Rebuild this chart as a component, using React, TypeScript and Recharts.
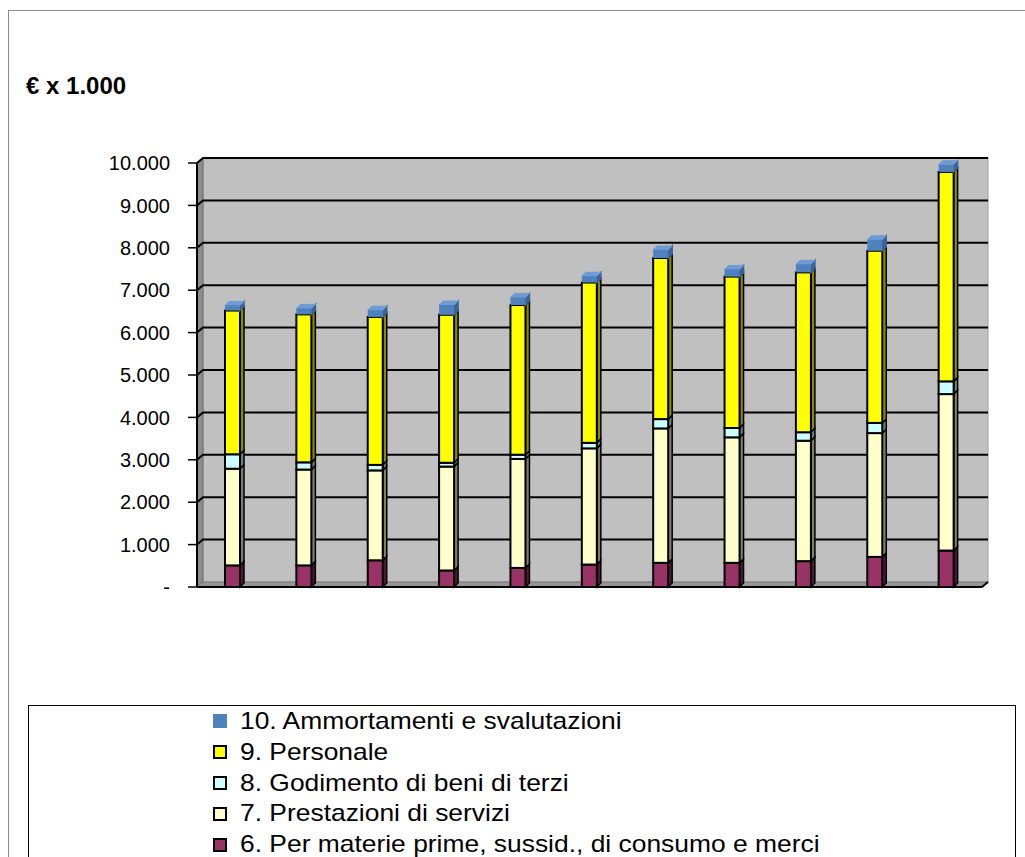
import React from "react";
import { BarChart, Bar, XAxis, YAxis, ReferenceArea, Legend } from "recharts";

const CATEGORIES = ["1", "2", "3", "4", "5", "6", "7", "8", "9", "10", "11"];

const MATERIE = [510, 510, 630, 390, 450, 530, 570, 570, 610, 710, 860];
const PRESTAZIONI = [2280, 2260, 2120, 2450, 2570, 2740, 3170, 2960, 2840, 2920, 3690];
const GODIMENTO = [340, 170, 130, 90, 100, 130, 220, 220, 200, 240, 300];
const PERSONALE = [3390, 3490, 3490, 3490, 3530, 3780, 3800, 3570, 3770, 4060, 4940];
const AMMORTAMENTI = [120, 140, 160, 230, 180, 150, 190, 170, 190, 260, 170];

const Y_TICKS = [0, 1000, 2000, 3000, 4000, 5000, 6000, 7000, 8000, 9000, 10000];
const Y_MAX = 10000;

const FONT = '"Liberation Sans", Arial, sans-serif';

// bottom to top
const SERIES = [
  { key: "materie", name: "6. Per materie prime, sussid., di consumo e merci", fill: "#993366", side: "#4d1a33", outline: true },
  { key: "prestazioni", name: "7. Prestazioni di servizi", fill: "#ffffcc", side: "#80806a", outline: true },
  { key: "godimento", name: "8. Godimento di beni di terzi", fill: "#ccffff", side: "#6a8080", outline: true },
  { key: "personale", name: "9. Personale", fill: "#ffff00", side: "#8a8a00", outline: true },
  { key: "ammortamenti", name: "10. Ammortamenti e svalutazioni", fill: "#4f81bd", side: "#3a6496", outline: false, top: "#6e9bd3" },
];

const data = CATEGORIES.map((c, i) => ({
  name: c,
  materie: MATERIE[i],
  prestazioni: PRESTAZIONI[i],
  godimento: GODIMENTO[i],
  personale: PERSONALE[i],
  ammortamenti: AMMORTAMENTI[i],
}));

function formatTick(v: number) {
  if (v === 0) return "-";
  return String(v).replace(/\B(?=(\d{3})+(?!\d))/g, ".");
}

function Bar3D(props: any) {
  const { x, y, width: w, height: h, s } = props;
  if (x == null || y == null || !h) return null;
  const d = 4;
  const stroke = s.outline ? "#000" : "none";
  return (
    <g>
      <polygon
        points={`${x + w},${y} ${x + w + d},${y - d} ${x + w + d},${y + h - d} ${x + w},${y + h}`}
        fill={s.side}
        stroke={s.outline ? "#000" : s.side}
        strokeWidth={1.5}
      />
      {s.top && (
        <polygon
          points={`${x},${y} ${x + d},${y - d} ${x + w + d},${y - d} ${x + w},${y}`}
          fill={s.top}
          stroke={s.top}
          strokeWidth={1}
        />
      )}
      <rect x={x} y={y} width={w} height={h} fill={s.fill} stroke={stroke} strokeWidth={2} />
    </g>
  );
}

function Walls(props: any) {
  const { x, y, width, height } = props;
  if (x == null) return null;
  const DX = 6;
  const DY = 5;
  const x0 = x;
  const x1 = x + width;
  const yb = y + height;
  return (
    <g>
      <rect x={x0 + DX} y={y - DY} width={width} height={height} fill="#c0c0c0" stroke="#a0a0a0" strokeWidth={1} />
      <polygon
        points={`${x0},${y} ${x0 + DX},${y - DY} ${x0 + DX},${yb - DY} ${x0},${yb}`}
        fill="#8c8c8c"
        stroke="#6e6e6e"
        strokeWidth={1}
      />
      <polygon
        points={`${x0},${yb} ${x0 + DX},${yb - DY} ${x1 + DX},${yb - DY} ${x1},${yb}`}
        fill="#969696"
        stroke="#7a7a7a"
        strokeWidth={1}
      />
      {Y_TICKS.filter((t) => t > 0).map((t) => {
        const ty = yb - (t / Y_MAX) * height;
        return (
          <polyline
            key={t}
            points={`${x0},${ty} ${x0 + DX},${ty - DY} ${x1 + DX},${ty - DY}`}
            fill="none"
            stroke="#000"
            strokeWidth={2}
          />
        );
      })}
      <line x1={x1} y1={yb} x2={x1 + DX} y2={yb - DY} stroke="#000" strokeWidth={2} />
    </g>
  );
}

function LegendBox() {
  const items = [...SERIES].reverse();
  return (
    <div style={{ fontFamily: FONT, fontSize: 24, color: "#000", paddingTop: 0 }}>
      {items.map((s) => (
        <div key={s.key} style={{ display: "flex", alignItems: "center", height: 30.8, lineHeight: "30.8px" }}>
          <span
            style={{
              display: "inline-block",
              marginLeft: 184,
              width: s.outline ? 10 : 14,
              height: s.outline ? 10 : 14,
              background: s.fill,
              border: s.outline ? "2px solid #000" : "none",
              marginRight: 13,
              flex: "none",
            }}
          />
          <span
            style={{
              display: "inline-block",
              whiteSpace: "nowrap",
              transform: "scaleX(1.1)",
              transformOrigin: "left center",
            }}
          >
            {s.name}
          </span>
        </div>
      ))}
    </div>
  );
}

export default function App() {
  return (
    <div
      style={{
        position: "absolute",
        left: 0,
        top: 0,
        width: 1025,
        height: 857,
        background: "#fff",
        overflow: "hidden",
      }}
    >
      <div
        style={{
          position: "absolute",
          left: 8,
          top: 10,
          width: 1040,
          height: 880,
          border: "1.5px solid #8c8c8c",
        }}
      />
      <div
        style={{
          position: "absolute",
          left: 26,
          top: 74,
          fontFamily: FONT,
          fontWeight: "bold",
          fontSize: 24,
          lineHeight: "24px",
          color: "#000",
          whiteSpace: "nowrap",
        }}
      >
        € x 1.000
      </div>
      <div style={{ position: "absolute", left: 0, top: 0 }}>
        <BarChart
          width={1025}
          height={857}
          data={data}
          margin={{ top: 163, right: 43, bottom: 268, left: 0 }}
          barSize={15}
        >
          <ReferenceArea y1={0} y2={Y_MAX} shape={(p: any) => <Walls {...p} />} ifOverflow="visible" />
          <XAxis
            dataKey="name"
            tick={false}
            tickLine={false}
            height={2}
            axisLine={{ stroke: "#000", strokeWidth: 2 }}
          />
          <YAxis
            width={197}
            domain={[0, Y_MAX]}
            ticks={Y_TICKS}
            interval={0}
            tickFormatter={formatTick}
            tickSize={9}
            tickMargin={18}
            tick={{ fill: "#000", fontSize: 20, fontFamily: FONT }}
            tickLine={{ stroke: "#000", strokeWidth: 1.5 }}
            axisLine={{ stroke: "#000", strokeWidth: 2 }}
          />
          {SERIES.map((s) => (
            <Bar
              key={s.key}
              dataKey={s.key}
              name={s.name}
              stackId="a"
              fill={s.fill}
              isAnimationActive={false}
              shape={(p: any) => <Bar3D {...p} s={s} />}
            />
          ))}
          <Legend
            layout="vertical"
            align="center"
            verticalAlign="middle"
            content={() => <LegendBox />}
            wrapperStyle={{
              position: "absolute",
              left: 28,
              top: 705,
              width: 988,
              height: 170,
              border: "1.5px solid #000",
              background: "#fff",
              boxSizing: "border-box",
            }}
          />
        </BarChart>
      </div>
    </div>
  );
}
